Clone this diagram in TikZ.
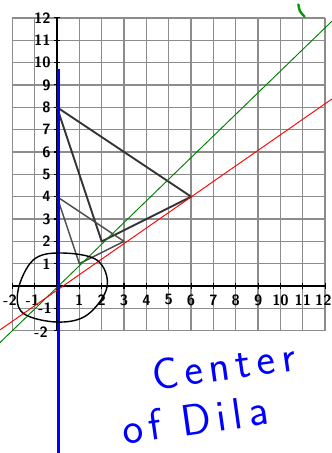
\documentclass[tikz,border=0pt]{standalone}
\usepackage{fontspec}
\usepackage{tikz}
\newfontfamily\handfont{Latin Modern Sans}[LetterSpace=14]
\begin{document}
\begin{tikzpicture}[gridline/.style={black!45,line width=1.7pt},
axisline/.style={black,line width=2.6pt},
numlbl/.style={font=\sffamily\bfseries\fontsize{19}{19}\selectfont,inner sep=0pt},
bigtri/.style={black!80,line width=2.4pt,line join=round},
smalltri/.style={black!70,line width=1.8pt,line join=round},
ink/.style={line width=1.2pt},
pen/.style={blue,font=\handfont\fontsize{56}{58}\selectfont,inner sep=0pt}]
\useasboundingbox (-2.55,-7.47) rectangle (12.3,12.8);
\draw[gridline](-2,-2)grid(12,12);
\draw[axisline](-2,0)--(12,0)
(0,-2)--(0,12);
\foreach \i in {-2,...,12}{
\draw[black,line width=1.4pt](\i,-0.12)--(\i,0.12)
(-0.12,\i)--(0.15,\i);}
\foreach \i in {1,...,11}
\node[numlbl](x\i) at (\i,-0.62){\i};
\node[numlbl](x12) at (11.92,-0.62){12};
\node[numlbl](xm1) at (-1.1,-0.62){-1};
\node[numlbl](xm2) at (-2.1,-0.62){-2};
\foreach \i in {1,...,12}
\node[numlbl,anchor=east](y\i) at (-0.28,\i){\i};
\node[numlbl,anchor=east](ym1) at (-0.22,-1){-1};
\node[numlbl,anchor=east](ym2) at (-0.4,-2.06){-2};
\coordinate (A) at (0,8);
\coordinate (B) at (6,4);
\coordinate (C) at (2,2);
\coordinate (D) at (0,4);
\coordinate (E) at (3,2);
\coordinate (F) at (1,1);
\draw[bigtri](A)--(B)--(C)--cycle;
\draw[smalltri](D)--(E)--(F)--cycle;
\draw[ink,green!50!black](-2.55,-2.53)--(12.3,11.85);
\draw[ink,red](-2.55,-1.96)--(12.3,8.37);
\draw[blue,line width=3.4pt](0.08,9.69)--(0.08,-7.47);
\draw[black,line width=1.8pt]plot[smooth cycle,tension=0.6]coordinates{(0.13,1.48)(1.79,1.16)(2.24,-0.04)(1.34,-1.3)(0,-1.61)(-1.52,-1.21)(-1.74,-0.18)(-1.07,1.16)};
\draw[green!60!black,line width=3pt,line cap=round](10.8,12.6)..controls(10.85,12.3)..(11.08,12.05);
\node[pen,rotate=8](c1) at (7.45,-3.55){Center};
\node[pen,rotate=8,anchor=base west](c2) at (3.0,-7.1){of\hspace{0.9cm}Dila};
\end{tikzpicture}
\end{document}
